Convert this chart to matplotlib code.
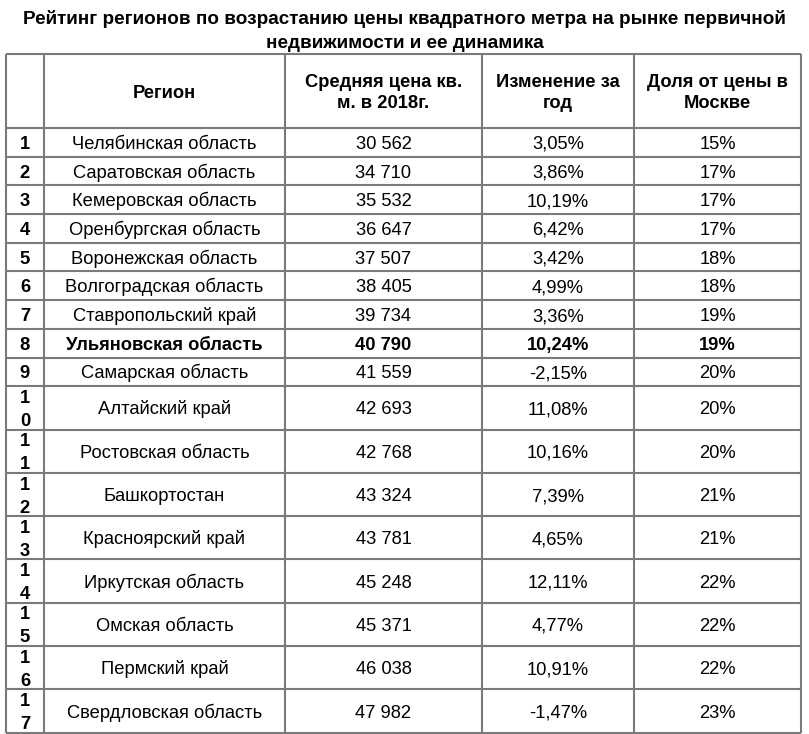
import matplotlib.pyplot as plt
from matplotlib import font_manager

ranks = list(range(1, 18))
regions = ["Челябинская область", "Саратовская область", "Кемеровская область",
           "Оренбургская область", "Воронежская область", "Волгоградская область",
           "Ставропольский край", "Ульяновская область", "Самарская область",
           "Алтайский край", "Ростовская область", "Башкортостан",
           "Красноярский край", "Иркутская область", "Омская область",
           "Пермский край", "Свердловская область"]
prices = ["30 562", "34 710", "35 532", "36 647", "37 507", "38 405", "39 734",
          "40 790", "41 559", "42 693", "42 768", "43 324", "43 781", "45 248",
          "45 371", "46 038", "47 982"]
changes = ["3,05%", "3,86%", "10,19%", "6,42%", "3,42%", "4,99%", "3,36%",
           "10,24%", "-2,15%", "11,08%", "10,16%", "7,39%", "4,65%", "12,11%",
           "4,77%", "10,91%", "-1,47%"]
shares = ["15%", "17%", "17%", "17%", "18%", "18%", "19%", "19%", "20%", "20%",
          "20%", "21%", "21%", "22%", "22%", "22%", "23%"]
headers = ["", "Регион", "Средняя цена кв.\nм. в 2018г.", "Изменение за\nгод",
           "Доля от цены в\nМоскве"]
title = ("Рейтинг регионов по возрастанию цены квадратного метра на рынке первичной\n"
         "недвижимости и ее динамика")
highlight = 8

names = {f.name for f in font_manager.fontManager.ttflist}
narrow = "Liberation Sans Narrow" if "Liberation Sans Narrow" in names else "Liberation Sans"
plt.rcParams["font.family"] = ["Liberation Sans", "DejaVu Sans"]

W, H = 809, 734
fig = plt.figure(figsize=(W / 100, H / 100), dpi=100)
ax = fig.add_axes([0, 0, 1, 1])
ax.set_xlim(0, W)
ax.set_ylim(H, 0)
ax.axis("off")

# границы таблицы в пикселях
col_x = [6, 44, 285, 482, 634, 801]
top, head_bot = 54, 128
short_h, tall_h = 28.7, 43.3
row_y = [head_bot]
for r in ranks:
    row_y.append(row_y[-1] + (short_h if r < 10 else tall_h))

line_kw = dict(color="#7a7a7a", lw=1.5, solid_capstyle="butt")
for x in col_x:
    ax.plot([x, x], [top, row_y[-1]], **line_kw)
for y in [top] + row_y:
    ax.plot([col_x[0], col_x[-1]], [y, y], **line_kw)

fs = 13.2
ax.text(W / 2, 31, title, ha="center", va="center", fontsize=13.6,
        fontweight="bold", family=[narrow, "DejaVu Sans"], linespacing=1.5)

for i, h in enumerate(headers):
    cx = (col_x[i] + col_x[i + 1]) / 2
    ax.text(cx, (top + head_bot) / 2 + 2, h, ha="center", va="center",
            fontsize=fs, fontweight="bold", linespacing=1.35)

base = 6.5  # от центра строки до базовой линии
for i, r in enumerate(ranks):
    cy = (row_y[i] + row_y[i + 1]) / 2
    wt = "bold" if r == highlight else "normal"
    digits = str(r)
    if len(digits) == 1:
        ax.text(25, cy + base, digits, ha="center", va="baseline", fontsize=fs,
                fontweight="bold")
    else:
        ax.text(25, cy + base - 11.5, digits[0], ha="center", va="baseline",
                fontsize=fs, fontweight="bold")
        ax.text(25, cy + base + 11.5, digits[1], ha="center", va="baseline",
                fontsize=fs, fontweight="bold")
    for j, val in enumerate([regions[i], prices[i], changes[i], shares[i]]):
        cx = (col_x[j + 1] + col_x[j + 2]) / 2
        ax.text(cx, cy + base, val, ha="center", va="baseline", fontsize=fs,
                fontweight=wt)

fig.savefig("out.png", dpi=100)
